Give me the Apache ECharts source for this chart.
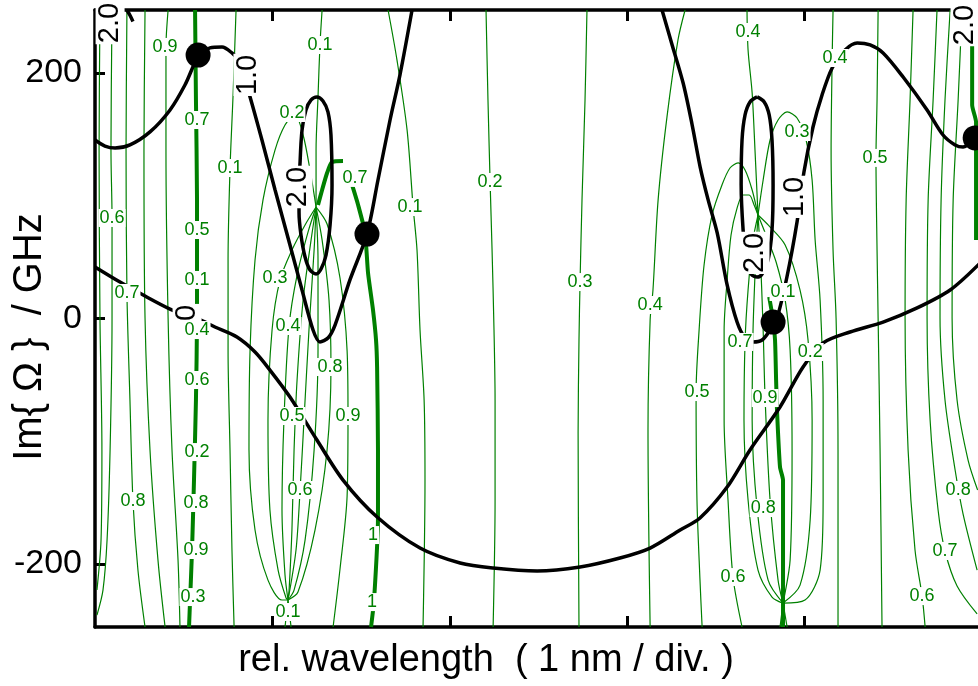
<!DOCTYPE html>
<html><head><meta charset="utf-8">
<script src="https://cdn.jsdelivr.net/npm/echarts@6/dist/echarts.min.js"></script>
<style>html,body{margin:0;padding:0;background:#fff}#c{width:978px;height:686px}</style>
</head><body><div id="c"></div>
<script>
// ---- axis ticks ----
const xTicks = [1, 2, 3, 4];
const yTicks = [-200, 0, 200];
const xTitle = 'rel. wavelength  ( 1 nm / div. )';
const yTitle = 'Im{ Ω }  / GHz';

// ---- black contour lines ----
const blackK1 = [[0,145.4],[0.056,140.5],[0.113,138.9],[0.197,141.4],[0.310,152],[0.423,169.9],[0.507,190.2],[0.581,213],[0.648,220.4],[0.716,221.2],[0.772,216.3],[0.806,210.6],[0.840,196],[0.874,180.5],[0.941,145.4],[1.015,104.7],[1.099,59.9],[1.167,23.2],[1.229,-9.4],[1.268,-19.1],[1.313,-15.9],[1.353,-5.3],[1.437,31.4],[1.533,68.8],[1.595,112.8],[1.663,161.7],[1.719,198.5],[1.787,251.3]];
const blackK2 = [[3.196,251.3],[3.253,222.8],[3.315,191.8],[3.366,157.6],[3.411,123.4],[3.456,96.6],[3.507,69.7],[3.563,27.3],[3.619,-2.9],[3.664,-15.9],[3.709,-19.1],[3.760,-17.5],[3.805,-9.4],[3.844,0.4],[3.900,33.8],[3.957,78.6],[3.996,119.4],[4.047,156.0],[4.098,182.1],[4.155,204.1],[4.228,218.7],[4.296,224.4],[4.369,222.8],[4.442,216.3],[4.555,196.7],[4.690,169.9],[4.780,149.5],[4.848,141.4],[4.893,139.7],[4.961,147.1],[4.989,153.6]];
const blackK3 = [[0,42.0],[0.141,29.7],[0.282,18.3],[0.423,7.7],[0.519,2.5],[0.581,-0.4],[0.676,-6.9],[0.800,-15.1],[0.902,-27.3],[0.986,-42.0],[1.099,-64.0],[1.251,-99.0],[1.398,-131.6],[1.590,-161.7],[1.832,-187.0],[2.058,-199.2],[2.244,-203.3],[2.492,-205.7],[2.734,-202.4],[2.959,-195.1],[3.129,-187.0],[3.298,-172.3],[3.410,-162.5],[3.563,-137.3],[3.692,-107.1],[3.861,-72.1],[3.991,-39.5],[4.104,-19.9],[4.256,-11.0],[4.442,-2.9],[4.634,8.6],[4.820,23.2],[4.989,45.2]];
const blackK4 = [[1.156,127.5],[1.167,153.6],[1.189,169.9],[1.218,178.0],[1.251,180.5],[1.285,177.2],[1.313,168.3],[1.330,149.5],[1.336,108.8],[1.325,76.2],[1.302,51.7],[1.274,40.3],[1.246,36.3],[1.212,39.5],[1.184,50.1],[1.161,68.0],[1.150,86.8],[1.150,108],[1.156,127.5]];
const blackK5 = [[3.732,180.5],[3.772,176.4],[3.800,165.8],[3.816,145.4],[3.822,108.8],[3.816,72.1],[3.794,47.7],[3.760,36.3],[3.732,33.8],[3.698,36.3],[3.670,47.7],[3.653,72.1],[3.642,108.8],[3.647,145.4],[3.664,165.8],[3.692,176.4],[3.732,180.5]];
const blackK6 = [[0.180,251.3],[0.197,247],[0.214,242]];
const blackDots = [[0.581,214.6],[1.533,68.8],[3.822,-2.9],[4.961,147.1]];

// ---- thick green (branch) lines ----
const greenG1 = [[0.564,251.3],[0.569,178.0],[0.575,96.6],[0.575,0.4],[0.569,-66.4],[0.558,-131.6],[0.547,-188.6],[0.536,-229.3],[0.530,-251.3]];
const greenG2a = [[1.257,92.5],[1.280,104.7],[1.308,118.5],[1.336,127.5],[1.398,128.3]];
const greenG2b = [[1.449,108.8],[1.483,92.5],[1.522,69.7],[1.539,37.1],[1.567,6.9],[1.584,-17.5],[1.590,-39.5],[1.595,-107.1],[1.595,-161.7],[1.573,-229.3],[1.556,-251.3]];
const greenG3 = [[3.800,17.5],[3.822,-1.2],[3.833,-17.5],[3.839,-50.1],[3.844,-74.5],[3.861,-121.0],[3.878,-131.6],[3.878,-188.6],[3.878,-229.3],[3.878,-251.3]];
const greenG4 = [[4.944,222.8],[4.944,173.9],[4.966,160.1],[4.966,64.0]];

// ---- thin green contour lines ----
const T = [1.246,90.8], B = [1.088,-229.3], T2 = [3.737,84.3], B2 = [3.878,-231.8];
const c05 = [[0.028,251.3],[0.023,137.3],[0.028,0.4],[0.039,-107.1],[0.034,-180.5],[0.011,-221.2]];
const c06 = [[0.096,251.3],[0.090,137.3],[0.096,81.9],[0.096,0.4],[0.085,-107.1],[0.068,-180.5],[0.045,-221.2],[0.011,-241.6]];
const c07 = [[0.180,251.3],[0.175,137.3],[0.180,20.8],[0.197,-66.4],[0.214,-148.7],[0.242,-204.9],[0.282,-251.3]];
const c08 = [[0.282,251.3],[0.276,137.3],[0.282,0.4],[0.310,-107.1],[0.355,-196.8],[0.395,-251.3]];
const c09 = [[0.412,251.3],[0.400,221.2],[0.400,137.3],[0.412,0.4],[0.434,-107.1],[0.468,-196.8],[0.479,-251.3]];
const c01a = [[0.795,251.3],[0.778,181.3],[0.761,121.8],[0.750,47.7],[0.750,-25.7],[0.761,-107.1],[0.772,-188.6],[0.784,-251.3]];
const cTop = [T,[1.246,137.3],[1.257,180.5],[1.268,222.8],[1.280,251.3]];
const f02 = [T,[1.212,121.0],[1.173,149.5],[1.127,165.8],[1.071,157.6],[1.015,137.3],[0.947,96.6],[0.902,47.7],[0.874,-25.7],[0.868,-107.1],[0.902,-172.3],[0.975,-213.1],[1.054,-229.3],B];
const f03 = [T,[1.184,76.2],[1.110,55.8],[1.043,31.4],[0.998,-9.4],[0.975,-82.7],[0.986,-156.0],[1.032,-204.9],[1.077,-227.7],B];
const f04 = [T,[1.201,70.5],[1.139,35.4],[1.094,-6.1],[1.065,-82.7],[1.054,-156.0],[1.071,-209.0],B];
const f05 = [T,[1.218,64.0],[1.173,15.1],[1.139,-50.1],[1.122,-107.1],[1.110,-172.3],[1.094,-221.2],B];
const f06 = [T,[1.235,55.8],[1.206,-9.4],[1.178,-82.7],[1.156,-139.7],[1.133,-188.6],B];
const f07 = [T,[1.257,47.7],[1.257,-25.7],[1.235,-107.1],[1.184,-180.5],[1.122,-221.2],B];
const f08 = [T,[1.280,64.0],[1.319,15.1],[1.330,-39.5],[1.308,-107.1],[1.240,-172.3],[1.144,-222.8],B];
const f09 = [T,[1.308,77.0],[1.381,33.0],[1.421,-26.5],[1.426,-79.4],[1.421,-144.6],[1.381,-204.1],[1.342,-251.3]];
const fB1 = [B,[1.071,-251.3]];
const fB2 = [B,[1.105,-251.3]];
const m1 = [[1.652,251.3],[1.702,210.6],[1.759,153.6],[1.793,90.8],[1.815,55.8],[1.832,-9.4],[1.855,-66.4],[1.860,-131.6],[1.849,-251.3]];
const m2 = [[2.204,251.3],[2.215,178.0],[2.227,111.2],[2.238,55.8],[2.249,-9.4],[2.255,-66.4],[2.255,-147.9],[2.244,-251.3]];
const m3 = [[2.773,251.3],[2.762,178.0],[2.745,96.6],[2.734,29.7],[2.728,-17.5],[2.723,-92.9],[2.728,-251.3]];
const m4 = [[3.326,251.3],[3.286,226.9],[3.224,164.2],[3.174,96.6],[3.145,23.2],[3.129,-1.2],[3.117,-90.8],[3.129,-251.3]];
const rA = [T2,[3.704,104.7],[3.664,121.0],[3.625,126.7],[3.579,122.6],[3.534,108.8],[3.478,84.3],[3.433,43.6],[3.405,-9.4],[3.388,-59.9],[3.393,-147.9],[3.410,-213.1],[3.422,-251.3]];
const rB = [T2,[3.715,92.5],[3.687,100.6],[3.653,100.6],[3.619,89.9],[3.585,68.0],[3.563,31.4],[3.546,-9.4],[3.546,-82.7],[3.568,-147.9],[3.596,-210.6],[3.647,-251.3]];
const rC = [T2,[3.709,64.0],[3.681,23.2],[3.664,-19.1],[3.658,-82.7],[3.681,-147.9],[3.737,-204.9],[3.816,-226.9],B2];
const rD = [T2,[3.726,55.8],[3.709,-9.4],[3.704,-82.7],[3.732,-154.4],[3.794,-213.1],B2];
const rE = [T2,[3.749,55.8],[3.766,-9.4],[3.777,-64.8],[3.805,-147.9],[3.850,-213.1],B2];
const rF = [T2,[3.782,68.0],[3.839,46.0],[3.890,15.1],[3.918,-25.7],[3.929,-107.1],[3.918,-196.8],B2];
const rG = [T2,[3.794,76.2],[3.890,59.9],[3.974,23.2],[4.019,-17.5],[4.042,-82.7],[4.031,-164.2],[3.974,-217.2],B2];
const rH = [T2,[3.766,112.8],[3.805,145.4],[3.850,161.7],[3.901,168.3],[3.957,163.3],[4.008,145.4],[4.042,112.8],[4.059,64.0],[4.087,15.1],[4.104,-66.4],[4.104,-147.9],[4.087,-204.9],[4.002,-229.3],B2];
const rTop = [[3.675,251.3],[3.681,218.7],[3.704,183.7],[3.720,137.3],T2];
const rB1 = [B2,[3.861,-251.3]];
const rB2 = [B2,[3.901,-251.3]];
const e1 = [[4.160,251.3],[4.155,212.2],[4.149,137.3],[4.160,55.8],[4.177,0.4],[4.188,-107.1],[4.188,-251.3]];
const e2 = [[4.414,251.3],[4.408,178.0],[4.402,130.8],[4.408,55.8],[4.414,0.4],[4.425,-107.1],[4.436,-251.3]];
const e3 = [[4.611,251.3],[4.594,178.0],[4.572,96.6],[4.566,0.4],[4.583,-107.1],[4.622,-188.6],[4.662,-226.1],[4.679,-251.3]];
const e4 = [[4.746,251.3],[4.724,178.0],[4.696,96.6],[4.690,0.4],[4.707,-82.7],[4.752,-156.0],[4.791,-189.4],[4.859,-217.9],[4.972,-240.7]];
const e5 = [[4.820,251.3],[4.791,178.0],[4.769,96.6],[4.763,0.4],[4.791,-66.4],[4.848,-123.4],[4.893,-159.3],[4.972,-204.9]];
const e6 = [[4.887,251.3],[4.865,178.0],[4.837,96.6],[4.831,0.4],[4.859,-66.4],[4.921,-115.3],[4.975,-139.7]];

// ---- contour labels ----
const greenLabelText = ['0.9','0.7','0.1','0.6','0.5','0.1','0.7','0.4','0.6','0.2','0.8','0.8','0.9','0.3','0.1','0.2','0.1','0.7','0.3','0.4','0.8','0.5','0.9','0.6','0.1','1','1','0.2','0.3','0.4','0.4','0.4','0.3','0.5','0.7','0.1','0.2','0.5','0.9','0.8','0.6','0.8','0.7','0.6'];
const greenLabelXY = [[0.395,221.2],[0.575,161.7],[0.761,122.6],[0.096,81.9],[0.575,72.1],[0.575,31.4],[0.180,20.8],[0.575,-9.4],[0.575,-50.1],[0.575,-108.8],[0.214,-148.7],[0.569,-150.3],[0.569,-188.6],[0.552,-226.9],[1.268,222.8],[1.110,167.4],[1.776,90.8],[1.466,114.5],[1.015,33.0],[1.088,-6.1],[1.325,-39.5],[1.110,-79.4],[1.426,-79.4],[1.156,-139.7],[1.088,-239.1],[1.567,-176.4],[1.561,-231.0],[2.227,111.2],[2.734,29.7],[3.129,11.0],[3.681,233.4],[4.171,212.2],[3.957,151.9],[4.397,130.8],[3.636,-19.1],[3.878,21.6],[4.031,-27.3],[3.393,-59.9],[3.777,-64.8],[3.766,-154.4],[3.596,-210.6],[4.865,-139.7],[4.791,-189.4],[4.662,-226.1]];
const blackLabelText = ['1.0','2.0','0','1.0','2.0','2.0','2.0'];
const blackLabelXY = [[0.862,198.4],[1.144,107.1],[0.519,4.5],[3.946,99.0],[3.720,53.4],[0.085,240.7],[4.904,239.1]];

const FONT = '"Liberation Sans", Arial, sans-serif';
const GREEN = '#008000';
const greenThin = [c05,c06,c07,c08,c09,c01a,cTop,f02,f03,f04,f05,f06,f07,f08,f09,fB1,fB2,m1,m2,m3,m4,rA,rB,rC,rD,rE,rF,rG,rH,rTop,rB1,rB2,e1,e2,e3,e4,e5,e6];
const greenThick = [greenG1,greenG2a,greenG2b,greenG3,greenG4];
const blackLines = [blackK1,blackK2,blackK3,blackK4,blackK5,blackK6];

const series = [];
greenThin.forEach(d => series.push({type:'line', data:d, symbol:'none', smooth:0.3, silent:true,
  lineStyle:{color:GREEN, width:1.2, opacity:1}, z:2}));
greenThick.forEach(d => series.push({type:'line', data:d, symbol:'none', smooth:0.2, silent:true,
  lineStyle:{color:GREEN, width:4, opacity:1}, z:3}));
blackLines.forEach(d => series.push({type:'line', data:d, symbol:'none', smooth:0.3, silent:true,
  lineStyle:{color:'#000', width:3.5, opacity:1}, z:4}));
series.push({type:'scatter', data:blackDots, symbolSize:25, itemStyle:{color:'#000', opacity:1}, z:5, silent:true});
series.push({type:'scatter', z:6, silent:true, symbolSize:0, itemStyle:{color:'#fff', opacity:1},
  data: greenLabelText.map((t,i)=>({name:t, value:greenLabelXY[i]})),
  label:{show:true, position:'inside', formatter:'{b}', color:GREEN, opacity:1, fontSize:18, fontFamily:FONT,
    backgroundColor:'#fff', padding:[0,1]}});
series.push({type:'scatter', z:7, silent:true, symbolSize:0, itemStyle:{color:'#fff', opacity:1},
  data: blackLabelText.map((t,i)=>({name:t, value:blackLabelXY[i]})),
  label:{show:true, position:'inside', formatter:'{b}', color:'#000', opacity:1, fontSize:29, fontFamily:FONT,
    rotate:90, backgroundColor:'#fff', padding:[0,1]}});

const axisX = pos => ({type:'value', min:0, max:4.977, position:pos,
  axisLine:{show:true, onZero:false, lineStyle:{color:'#000', width:3.5}},
  axisTick:{show:true, inside:true, length:11, customValues:xTicks, lineStyle:{color:'#000', width:3}},
  axisLabel:{show:false}, splitLine:{show:false}});

const chart = echarts.init(document.getElementById('c'));
chart.setOption({
  animation:false,
  backgroundColor:'#fff',
  grid:{left:95, right:0, top:10, bottom:59},
  xAxis:[axisX('bottom'), axisX('top')],
  yAxis:{type:'value', min:-251.3, max:251.3,
    axisLine:{show:true, onZero:false, lineStyle:{color:'#000', width:3.5}},
    axisTick:{show:true, inside:true, length:10, customValues:yTicks, lineStyle:{color:'#000', width:3}},
    axisLabel:{show:true, customValues:yTicks, color:'#000', fontSize:34, fontFamily:FONT, margin:13},
    splitLine:{show:false}},
  graphic:[
    {type:'text', x:486, y:661, silent:true, style:{text:xTitle, font:'38px "Liberation Sans", Arial, sans-serif', fill:'#000', align:'center', verticalAlign:'middle'}},
    {type:'text', x:30, y:337, rotation:Math.PI/2, silent:true, style:{text:yTitle, font:'40px "Liberation Sans", Arial, sans-serif', fill:'#000', align:'center', verticalAlign:'middle'}}
  ],
  series: series
});
</script></body></html>
